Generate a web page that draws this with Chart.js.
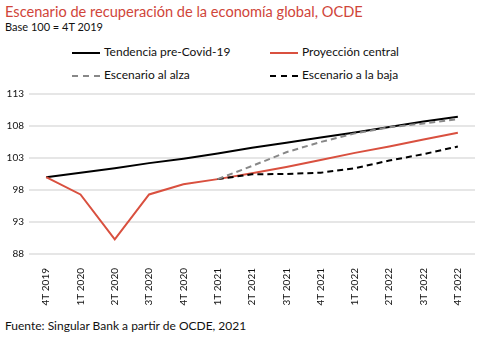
<!DOCTYPE html>
<html>
<head>
<meta charset="utf-8">
<script src="https://cdn.jsdelivr.net/npm/chart.js@4"></script>
<style>
  body { margin: 0; width: 483px; height: 342px; background: #fff; font-family: Lato, "Open Sans", sans-serif; position: relative; overflow: hidden; }
  .title { position: absolute; left: 5px; top: 3px; font-size: 14.6px; color: #d0453a; white-space: nowrap; }
  .sub { position: absolute; left: 5px; top: 20px; font-size: 11px; color: #111; }
  .leg { position: absolute; font-size: 12px; color: #111; white-space: nowrap; }
  .leg span.l { display: inline-block; width: 28px; vertical-align: middle; margin-right: 4px; }
  .src { position: absolute; left: 5px; top: 318px; font-size: 12px; color: #111; }
  #wrap { position: absolute; left: 0; top: 83px; width: 483px; height: 227px; }
</style>
</head>
<body>
<div class="title">Escenario de recuperación de la economía global, OCDE</div>
<div class="sub">Base 100 = 4T 2019</div>
<div class="leg" style="left:72px;top:44px"><span class="l" style="border-top:2px solid #000"></span>Tendencia pre-Covid-19</div>
<div class="leg" style="left:270px;top:44px"><span class="l" style="border-top:2px solid #d9503f"></span>Proyección central</div>
<div class="leg" style="left:72px;top:67px"><span class="l" style="border-top:2px dashed #888"></span>Escenario al alza</div>
<div class="leg" style="left:270px;top:67px"><span class="l" style="border-top:2px dashed #000"></span>Escenario a la baja</div>
<div id="wrap"><canvas id="c"></canvas></div>
<div class="src">Fuente: Singular Bank a partir de OCDE, 2021</div>
<script>
// datos
const quarters = ["4T 2019", "1T 2020", "2T 2020", "3T 2020", "4T 2020", "1T 2021", "2T 2021",
  "3T 2021", "4T 2021", "1T 2022", "2T 2022", "3T 2022", "4T 2022"];
const tendencia = [100, 100.7, 101.4, 102.2, 102.9, 103.7, 104.6, 105.4, 106.2, 107.0, 107.85, 108.7, 109.45];
const central = [100, 97.3, 90.3, 97.3, 98.9, 99.7, 100.6, 101.6, 102.7, 103.8, 104.8, 105.9, 106.95];
const alza = [null, null, null, null, null, 99.7, 101.75, 103.9, 105.5, 106.85, 107.8, 108.4, 109.05];
const baja = [null, null, null, null, null, 99.7, 100.45, 100.5, 100.7, 101.4, 102.6, 103.6, 104.8];
const yTicks = [88, 93, 98, 103, 108, 113];

const font = { family: "Lato, 'Open Sans', sans-serif", size: 10 };

new Chart(document.getElementById("c"), {
  type: "line",
  data: {
    labels: quarters,
    datasets: [
      { label: "Escenario al alza", data: alza, borderColor: "#888", borderDash: [6, 4], borderWidth: 2 },
      { label: "Escenario a la baja", data: baja, borderColor: "#000", borderDash: [6, 4], borderWidth: 2 },
      { label: "Proyección central", data: central, borderColor: "#d9503f", borderWidth: 2 },
      { label: "Tendencia pre-Covid-19", data: tendencia, borderColor: "#000", borderWidth: 2 }
    ]
  },
  options: {
    responsive: true,
    maintainAspectRatio: false,
    animation: false,
    elements: { point: { radius: 0 }, line: { tension: 0 } },
    layout: { padding: { top: 4, right: 8, left: 0, bottom: 0 } },
    plugins: { legend: { display: false }, tooltip: { enabled: false } },
    scales: {
      x: {
        offset: true,
        grid: { display: false },
        border: { display: false },
        ticks: { font: font, color: "#111", maxRotation: 90, minRotation: 90, padding: 6 },
        afterFit: s => { s.height = 56; }
      },
      y: {
        min: 88, max: 113,
        afterBuildTicks: s => { s.ticks = yTicks.map(v => ({ value: v })); },
        grid: { color: "#e6e6e6", lineWidth: 2, drawTicks: false },
        border: { display: false },
        ticks: { font: font, color: "#111", padding: 5 },
        afterFit: s => { s.width = 29; }
      }
    }
  }
});
</script>
</body>
</html>
